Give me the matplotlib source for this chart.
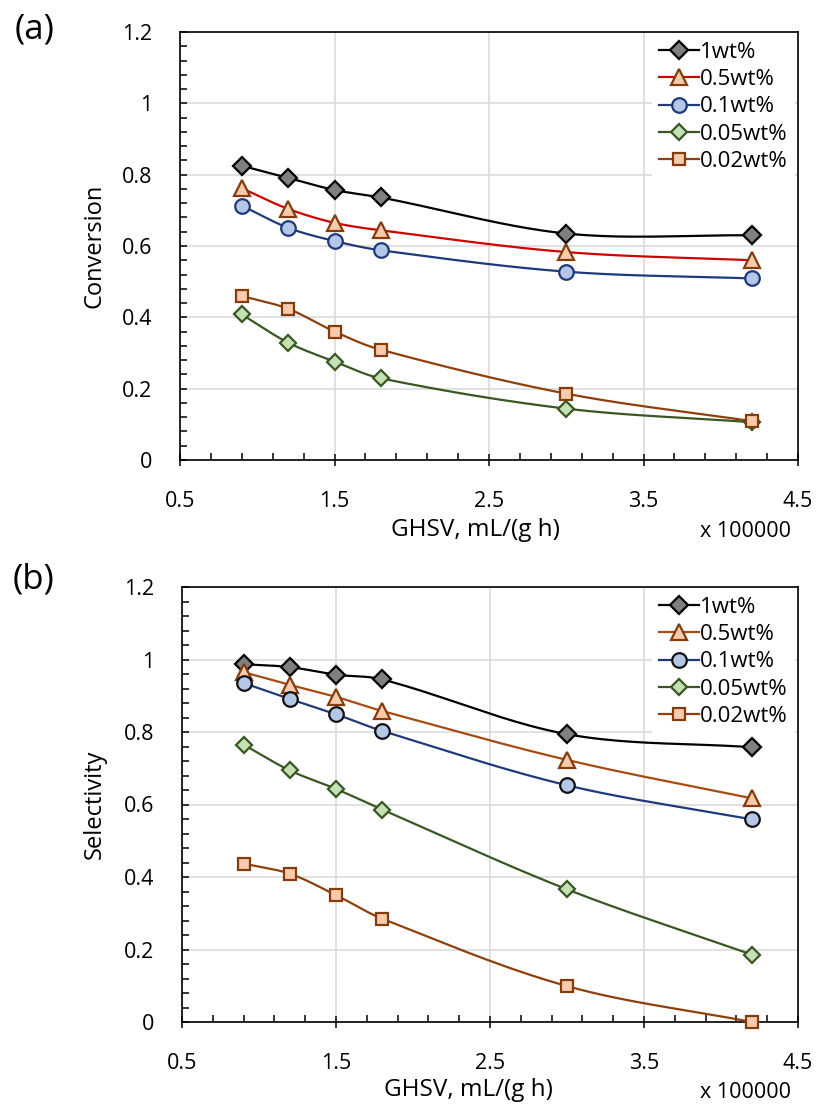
import numpy as np
import matplotlib
matplotlib.use("Agg")
import matplotlib.pyplot as plt
from matplotlib.lines import Line2D
from matplotlib.ticker import MultipleLocator, FuncFormatter

plt.rcParams["font.family"] = ["Open Sans", "DejaVu Sans"]

# GHSV values (x 100000 mL/(g h))
ghsv = [0.9, 1.2, 1.5, 1.8, 3.0, 4.2]
loadings = ["1wt%", "0.5wt%", "0.1wt%", "0.05wt%", "0.02wt%"]

# Conversion
conv_1 = [0.825, 0.791, 0.757, 0.736, 0.635, 0.630]
conv_05 = [0.762, 0.704, 0.665, 0.644, 0.583, 0.560]
conv_01 = [0.713, 0.651, 0.614, 0.588, 0.528, 0.509]
conv_005 = [0.408, 0.329, 0.276, 0.229, 0.144, 0.106]
conv_002 = [0.460, 0.424, 0.360, 0.309, 0.186, 0.109]

# Selectivity
sel_1 = [0.987, 0.979, 0.958, 0.945, 0.794, 0.758]
sel_05 = [0.965, 0.930, 0.897, 0.858, 0.723, 0.617]
sel_01 = [0.935, 0.891, 0.849, 0.803, 0.653, 0.559]
sel_005 = [0.765, 0.694, 0.643, 0.586, 0.366, 0.186]
sel_002 = [0.437, 0.409, 0.350, 0.285, 0.099, 0.0]

W, H = 817, 1108
fig = plt.figure(figsize=(W / 100, H / 100), dpi=100)

XMIN, XMAX, YMIN, YMAX = 0.5, 4.5, 0.0, 1.2


def _unit(v):
    n = np.hypot(*v)
    return v / n if n > 0 else v


def smooth(xs, ys, wpx, hpx, n=40):
    """Smoothed line through the points: cubic Bezier segments whose tangents
    follow the neighbouring points, with handle lengths tied to each segment's
    own length (computed in screen space)."""
    sx = wpx / (XMAX - XMIN)
    sy = hpx / (YMAX - YMIN)
    P = np.column_stack([np.asarray(xs) * sx, np.asarray(ys) * sy])
    m = len(P)
    out = []
    t = np.linspace(0, 1, n)[:, None]
    for i in range(m - 1):
        p0 = P[i - 1] if i > 0 else P[i]
        p1, p2 = P[i], P[i + 1]
        p3 = P[i + 2] if i + 2 < m else P[i + 1]
        L = np.hypot(*(p2 - p1))
        c1 = p1 + _unit(p2 - p0) * L / 3.0
        c2 = p2 - _unit(p3 - p1) * L / 3.0
        seg = ((1 - t) ** 3) * p1 + 3 * ((1 - t) ** 2) * t * c1 + 3 * (1 - t) * t ** 2 * c2 + t ** 3 * p2
        out.append(seg if i == 0 else seg[1:])
    out = np.vstack(out)
    return out[:, 0] / sx, out[:, 1] / sy


def panel(rect_px, series, styles, ylabel, letter, letter_pos, xlabel_pos, mult_pos):
    x0, y0, x1, y1 = rect_px
    ax = fig.add_axes([x0 / W, 1 - y1 / H, (x1 - x0) / W, (y1 - y0) / H])
    ax.set_xlim(XMIN, XMAX)
    ax.set_ylim(YMIN, YMAX)
    ax.xaxis.set_major_locator(MultipleLocator(1.0, offset=0.5))
    ax.xaxis.set_minor_locator(MultipleLocator(0.2, offset=0.1))
    ax.yaxis.set_major_locator(MultipleLocator(0.2))
    ax.yaxis.set_minor_locator(MultipleLocator(0.04))
    ax.xaxis.set_major_formatter(FuncFormatter(lambda v, p: f"{v:g}"))
    ax.yaxis.set_major_formatter(FuncFormatter(lambda v, p: f"{round(v, 2):g}"))
    ax.grid(True, which="major", color="#d9d9d9", linewidth=1.1, zorder=0)
    ax.set_axisbelow(True)
    for s in ax.spines.values():
        s.set_color("black")
        s.set_linewidth(1.2)
    ax.tick_params(which="minor", direction="in", length=5, width=1.1, color="black")
    ax.tick_params(axis="x", which="major", direction="inout", length=8, width=1.1,
                   labelsize=15.5, pad=18, color="black")
    ax.tick_params(axis="y", which="major", direction="in", length=5, width=1.1,
                   labelsize=15.5, pad=20, color="black")

    handles = []
    for ys, st, lab in zip(series, styles, loadings):
        lx, ly = smooth(ghsv, ys, x1 - x0, y1 - y0)
        ax.plot(lx, ly, color=st["line"], linewidth=1.6, zorder=3, clip_on=False)
        ax.plot(ghsv, ys, linestyle="none", marker=st["marker"], markersize=st["ms"],
                markerfacecolor=st["face"], markeredgecolor=st["edge"],
                markeredgewidth=1.6, zorder=4, clip_on=False)
        handles.append(Line2D([], [], color=st["line"], linewidth=1.6, marker=st["marker"],
                              markersize=st["ms"], markerfacecolor=st["face"],
                              markeredgecolor=st["edge"], markeredgewidth=1.6))
    leg = ax.legend(handles, loadings, loc="upper right", fontsize=16, frameon=True,
                    fancybox=False, framealpha=1, edgecolor="none", facecolor="white",
                    handlelength=1.8, handletextpad=0.05, labelspacing=0.28,
                    borderaxespad=0.15, borderpad=0.3)
    leg.set_zorder(6)

    fig.text(95 / W, 1 - (y0 + y1) / 2 / H, ylabel, rotation=90, fontsize=17,
             ha="center", va="center")
    fig.text(xlabel_pos[0] / W, 1 - xlabel_pos[1] / H, "GHSV, mL/(g h)", fontsize=17.5,
             ha="center", va="center")
    fig.text(mult_pos[0] / W, 1 - mult_pos[1] / H, "x 100000", fontsize=15.5,
             ha="center", va="center")
    fig.text(letter_pos[0] / W, 1 - letter_pos[1] / H, letter, fontsize=25,
             ha="center", va="center")
    return ax


gray = dict(marker="D", ms=9, face="#7f7f7f", edge="black", line="black")
tri_a = dict(marker="^", ms=11, face="#f8cbad", edge="#843c0c", line="#d00000")
tri_b = dict(marker="^", ms=11, face="#f8cbad", edge="#843c0c", line="#a84a12")
circ_a = dict(marker="o", ms=10.5, face="#b4c7e7", edge="#1f3a7a", line="#1f3a7a")
circ_b = dict(marker="o", ms=10.5, face="#b4c7e7", edge="#111111", line="#1f3a7a")
dia_g = dict(marker="D", ms=8.5, face="#c5e0b4", edge="#385723", line="#385723")
sq = dict(marker="s", ms=9, face="#f8cbad", edge="#843c0c", line="#8f3f0c")

panel((180, 32, 798, 460),
      [conv_1, conv_05, conv_01, conv_005, conv_002],
      [gray, tri_a, circ_a, dia_g, sq],
      "Conversion", "(a)", (35, 30), (475, 530), (745, 532))

panel((182, 587, 798, 1022),
      [sel_1, sel_05, sel_01, sel_005, sel_002],
      [gray, tri_b, circ_b, dia_g, sq],
      "Selectivity", "(b)", (33, 580), (468, 1090), (745, 1092))

fig.savefig("out.png", dpi=100)
